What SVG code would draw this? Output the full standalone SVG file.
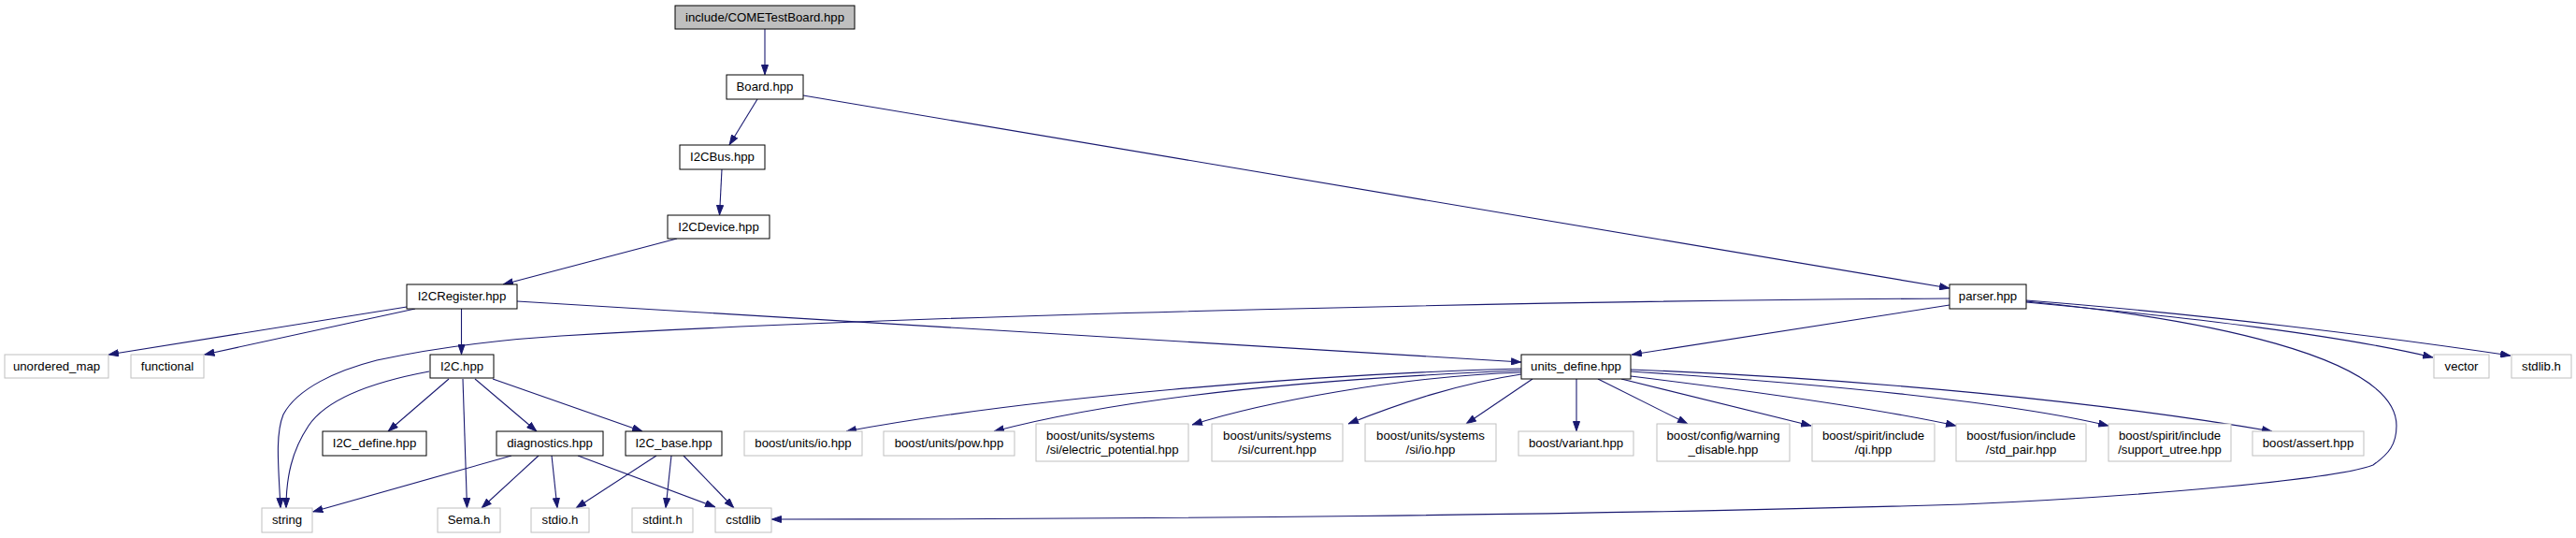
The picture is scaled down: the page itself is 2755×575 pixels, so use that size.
<svg xmlns="http://www.w3.org/2000/svg" width="2755" height="575" viewBox="0 0 2755 575">
<style>
rect{fill:#fff;stroke-width:1}
.d rect{stroke:#000}
.x rect{stroke:#bfbfbf}
.r rect{fill:#bfbfbf;stroke:#000}
text{font-family:"Liberation Sans",Arial,sans-serif;font-size:13.2px;fill:#000;text-anchor:middle}
#edges path{fill:none;stroke:#191970;stroke-width:1.1;marker-end:url(#ah)}
</style>
<defs>
<marker id="ah" viewBox="0 0 11 8" refX="11" refY="4" markerWidth="11" markerHeight="8" markerUnits="userSpaceOnUse" orient="auto">
<path d="M0.5,0.5 L10.5,4 L0.5,7.5 z" fill="#191970" stroke="#191970" stroke-width="1"/>
</marker>
</defs>
<rect x="0" y="0" width="2755" height="575" style="fill:#fff;stroke:none"/>
<g id="edges">
<path d="M818,31 L818,80"/>
<path d="M810,106 L780,155"/>
<path d="M859,102 L2085,308"/>
<path d="M772,181 L769.5,230"/>
<path d="M724,255 L538,304"/>
<path d="M435,328 L116,379"/>
<path d="M444,330 L218.5,379"/>
<path d="M493.5,330 L493.5,379"/>
<path d="M553,322 L1627,387"/>
<path d="M2085,326 L1745,379"/>
<path d="M2085,319 C1700,321 1000,335 600,359 C520,364 450,375 403,385 C360,396 318,415 303,443 C294,465 298,500 300,543"/>
<path d="M459,397 C400,408 350,425 330,455 C312,482 306,510 306,543"/>
<path d="M480,405 L415,461"/>
<path d="M495,405 L499.5,543"/>
<path d="M508,405 L574,461"/>
<path d="M527,405 L687,461"/>
<path d="M547,487 L334.5,547"/>
<path d="M576,487 L515,543"/>
<path d="M590,487 L596,543"/>
<path d="M618,487 L765,542"/>
<path d="M702,487 L616,543"/>
<path d="M718,487 L712,543"/>
<path d="M731,487 L785,543"/>
<path d="M2167,322 C2350,340 2563,380 2563,455 C2563,475 2555,485 2538,497 C2500,512 2300,530 2100,539 C1700,551 1200,555 825,555"/>
<path d="M2167,323 C2350,340 2500,358 2602,382"/>
<path d="M2167,321 C2350,335 2550,360 2685,380"/>
<path d="M1627,394 C1400,400 1100,425 905,461"/>
<path d="M1627,396 C1400,405 1200,425 1063,461"/>
<path d="M1627,398 C1500,402 1350,430 1275,454"/>
<path d="M1627,400 C1560,410 1500,430 1442,453"/>
<path d="M1639,405 L1568,453"/>
<path d="M1686,405 L1686,461"/>
<path d="M1709,405 L1805,453"/>
<path d="M1734,405 L1937,455"/>
<path d="M1744,402 C1850,415 2000,435 2092,455"/>
<path d="M1744,397 C1950,410 2150,430 2255,455"/>
<path d="M1744,395 C2000,405 2250,430 2430,461"/>
</g>
<g id="n_root" class="r"><rect x="722" y="6" width="192" height="25"/><text x="818" y="23">include/COMETestBoard.hpp</text></g>
<g id="n_board" class="d"><rect x="777" y="80" width="82" height="26"/><text x="818" y="97">Board.hpp</text></g>
<g id="n_i2cbus" class="d"><rect x="727" y="155" width="91" height="26"/><text x="772.5" y="172">I2CBus.hpp</text></g>
<g id="n_i2cdevice" class="d"><rect x="714" y="230" width="109" height="25"/><text x="768.5" y="247">I2CDevice.hpp</text></g>
<g id="n_i2cregister" class="d"><rect x="435" y="304" width="118" height="26"/><text x="494" y="321">I2CRegister.hpp</text></g>
<g id="n_parser" class="d"><rect x="2085" y="304" width="82" height="26"/><text x="2126" y="321">parser.hpp</text></g>
<g id="n_unordered_map" class="x"><rect x="5" y="379" width="111" height="25"/><text x="60.5" y="396">unordered_map</text></g>
<g id="n_functional" class="x"><rect x="140" y="379" width="78" height="25"/><text x="179" y="396">functional</text></g>
<g id="n_i2c" class="d"><rect x="460" y="379" width="68" height="25"/><text x="494" y="396">I2C.hpp</text></g>
<g id="n_units_define" class="d"><rect x="1627" y="379" width="117" height="26"/><text x="1685.5" y="396">units_define.hpp</text></g>
<g id="n_vector" class="x"><rect x="2603" y="379" width="59" height="25"/><text x="2632.5" y="396">vector</text></g>
<g id="n_stdlib_h" class="x"><rect x="2686" y="379" width="64" height="25"/><text x="2718" y="396">stdlib.h</text></g>
<g id="n_i2c_define" class="d"><rect x="345" y="461" width="111" height="26"/><text x="400.5" y="478">I2C_define.hpp</text></g>
<g id="n_diagnostics" class="d"><rect x="531" y="461" width="114" height="26"/><text x="588" y="478">diagnostics.hpp</text></g>
<g id="n_i2c_base" class="d"><rect x="669" y="461" width="103" height="26"/><text x="720.5" y="478">I2C_base.hpp</text></g>
<g id="n_units_io" class="x"><rect x="796" y="461" width="126" height="26"/><text x="859" y="478">boost/units/io.hpp</text></g>
<g id="n_units_pow" class="x"><rect x="945" y="461" width="140" height="26"/><text x="1015" y="478">boost/units/pow.hpp</text></g>
<g id="n_electric" class="x"><rect x="1108" y="453" width="163" height="40"/><text x="1119" y="470" style="text-anchor:start">boost/units/systems</text><text x="1119" y="485" style="text-anchor:start">/si/electric_potential.hpp</text></g>
<g id="n_current" class="x"><rect x="1296" y="453" width="140" height="40"/><text x="1366" y="470">boost/units/systems</text><text x="1366" y="485">/si/current.hpp</text></g>
<g id="n_si_io" class="x"><rect x="1460" y="453" width="140" height="40"/><text x="1530" y="470">boost/units/systems</text><text x="1530" y="485">/si/io.hpp</text></g>
<g id="n_variant" class="x"><rect x="1624" y="461" width="123" height="26"/><text x="1685.5" y="478">boost/variant.hpp</text></g>
<g id="n_warning" class="x"><rect x="1772" y="453" width="142" height="40"/><text x="1843" y="470">boost/config/warning</text><text x="1843" y="485">_disable.hpp</text></g>
<g id="n_qi" class="x"><rect x="1938" y="453" width="131" height="40"/><text x="2003.5" y="470">boost/spirit/include</text><text x="2003.5" y="485">/qi.hpp</text></g>
<g id="n_std_pair" class="x"><rect x="2092" y="453" width="139" height="40"/><text x="2161.5" y="470">boost/fusion/include</text><text x="2161.5" y="485">/std_pair.hpp</text></g>
<g id="n_utree" class="x"><rect x="2255" y="453" width="131" height="40"/><text x="2320.5" y="470">boost/spirit/include</text><text x="2320.5" y="485">/support_utree.hpp</text></g>
<g id="n_assert" class="x"><rect x="2409" y="461" width="119" height="26"/><text x="2468.5" y="478">boost/assert.hpp</text></g>
<g id="n_string" class="x"><rect x="280" y="543" width="54" height="26"/><text x="307" y="560">string</text></g>
<g id="n_sema" class="x"><rect x="468" y="543" width="67" height="26"/><text x="501.5" y="560">Sema.h</text></g>
<g id="n_stdio" class="x"><rect x="568" y="543" width="62" height="26"/><text x="599" y="560">stdio.h</text></g>
<g id="n_stdint" class="x"><rect x="676" y="543" width="65" height="26"/><text x="708.5" y="560">stdint.h</text></g>
<g id="n_cstdlib" class="x"><rect x="765" y="543" width="60" height="26"/><text x="795" y="560">cstdlib</text></g>
</svg>
